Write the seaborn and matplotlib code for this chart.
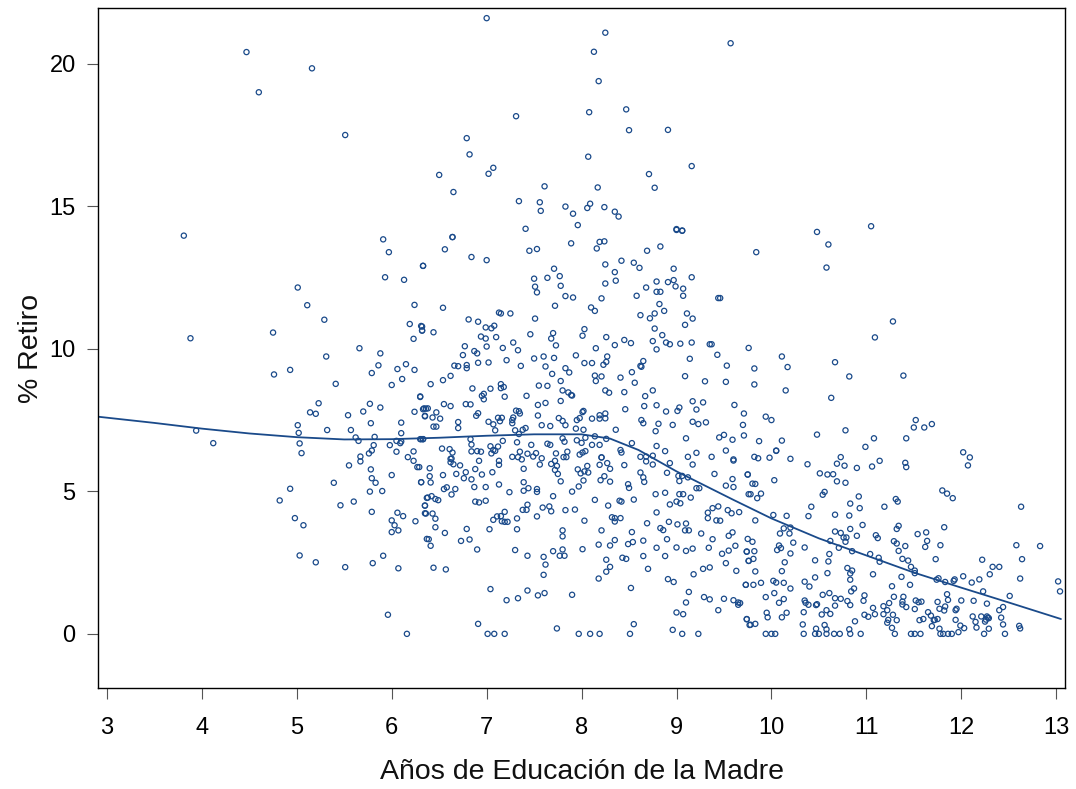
import numpy as np
import pandas as pd
import seaborn as sns
from matplotlib import pyplot as plt

# (años de educación de la madre, % retiro), por zonas
puntos_altos = [
    (4.47, 20.41), (5.16, 19.84), (4.60, 19.00), (5.51, 17.50), (3.81, 13.97),
    (7.00, 21.60), (8.25, 21.09), (8.13, 20.42), (9.57, 20.72), (8.18, 19.39),
    (7.31, 18.16), (8.08, 18.30), (8.47, 18.40), (8.50, 17.67), (8.91, 17.68),
    (6.79, 17.39), (6.82, 16.82), (8.07, 16.74), (7.07, 16.35), (7.02, 16.14),
    (6.50, 16.10), (9.16, 16.41), (8.71, 16.13), (8.77, 15.65), (6.65, 15.50),
    (7.61, 15.70), (8.17, 15.66), (7.34, 15.18), (7.56, 15.14), (7.57, 14.84),
    (7.83, 14.99), (7.91, 14.74), (8.09, 15.09), (8.06, 14.94), (8.24, 14.97),
    (8.35, 14.81), (8.39, 14.64), (7.96, 14.34), (7.41, 14.21), (6.64, 13.92),
    (9.00, 14.20), (9.06, 14.15), (10.48, 14.10), (11.05, 14.30),
]

puntos_izq = [
    (5.91, 13.84), (5.97, 13.39), (5.93, 12.51), (6.13, 12.42), (6.33, 12.91),
    (5.01, 12.15), (5.11, 11.53), (5.29, 11.02), (6.24, 11.54), (6.19, 10.87),
    (6.31, 10.80), (6.32, 10.64), (6.23, 10.35), (3.88, 10.37), (4.75, 10.57),
    (5.66, 10.02), (5.88, 9.84), (5.31, 9.73), (5.86, 9.42), (6.06, 9.29),
    (6.15, 9.46), (6.24, 9.26), (4.76, 9.10), (4.93, 9.26), (5.79, 9.15),
    (6.11, 8.94), (6.00, 8.73), (5.41, 8.77), (6.30, 8.31), (5.23, 8.09),
    (5.77, 8.07), (5.88, 7.94), (5.14, 7.77), (5.20, 7.72), (5.54, 7.67),
    (5.70, 7.80), (6.24, 7.79), (6.33, 7.88), (6.36, 7.90), (6.35, 7.63),
    (5.01, 7.32), (5.02, 7.05), (5.32, 7.15), (5.57, 7.15), (5.78, 7.39),
    (6.10, 7.41), (6.10, 7.04), (5.62, 6.89), (5.65, 6.77), (5.82, 6.91),
    (3.94, 7.13), (4.12, 6.69), (5.03, 6.68), (5.05, 6.34), (5.81, 6.62),
    (5.98, 6.62), (6.05, 6.77), (6.09, 6.69), (6.10, 6.75), (6.30, 6.83),
    (6.33, 6.83), (5.79, 6.43), (5.76, 6.33), (6.05, 6.39), (6.23, 6.40),
    (5.67, 6.22), (6.17, 6.20), (5.67, 6.05), (5.55, 5.91), (5.78, 5.77),
    (6.00, 5.57), (6.23, 6.07), (6.27, 5.85), (6.29, 5.85), (6.31, 5.32),
    (5.39, 5.30), (4.93, 5.09), (4.82, 4.68), (5.46, 4.51), (5.60, 4.64),
    (5.79, 5.46), (5.83, 5.30), (5.77, 4.99), (5.90, 5.01), (5.79, 4.28),
    (6.06, 4.25), (6.12, 4.13), (6.00, 3.98), (6.03, 3.81), (6.00, 3.57),
    (6.07, 3.63), (6.25, 3.95), (6.35, 4.50), (6.36, 4.22), (6.37, 3.33),
    (4.98, 4.06), (5.07, 3.81), (5.03, 2.75), (5.20, 2.51), (5.51, 2.34),
    (5.80, 2.48), (5.91, 2.74), (6.07, 2.30), (5.96, 0.67), (6.16, 0.00),
    (6.37, 4.77),
]

puntos_centro_alto = [
    (6.64, 13.92), (6.56, 13.49), (6.84, 13.22), (7.00, 13.11), (6.33, 12.91),
    (7.45, 13.44), (7.53, 13.50), (7.89, 13.70), (8.19, 13.75), (8.24, 13.77),
    (8.16, 13.52), (8.69, 13.44), (8.83, 13.59), (9.00, 14.17), (9.06, 14.14),
    (8.25, 12.96), (8.42, 13.09), (8.55, 13.02), (8.61, 12.84), (8.35, 12.69),
    (8.36, 12.39), (8.25, 12.29), (7.71, 12.81), (7.77, 12.55), (7.64, 12.49),
    (7.50, 12.46), (7.51, 12.18), (7.53, 11.98), (7.78, 12.21), (7.83, 11.85),
    (7.91, 11.80), (7.72, 11.51), (8.21, 11.77), (8.10, 11.45), (8.14, 11.33),
    (8.58, 11.86), (8.68, 12.15), (8.79, 12.36), (8.91, 12.34), (8.97, 12.81),
    (9.16, 12.51), (8.97, 12.41), (8.99, 12.19), (9.07, 12.11), (9.07, 11.86),
    (8.79, 12.00), (8.83, 12.00), (8.82, 11.57), (8.77, 11.24), (8.87, 11.33),
    (8.72, 11.07), (8.62, 11.18), (9.44, 11.78), (9.46, 11.78), (9.11, 11.24),
    (9.17, 11.06), (9.09, 10.84), (8.77, 10.71), (8.85, 10.48), (8.75, 10.27),
    (8.79, 9.98), (8.89, 10.22), (8.93, 10.16), (9.04, 10.18), (9.16, 10.22),
    (9.35, 10.16), (9.37, 10.16), (9.76, 10.03), (6.54, 11.44), (6.81, 11.03),
    (6.91, 10.95), (7.13, 11.27), (7.15, 11.24), (7.25, 11.24), (7.51, 11.06),
    (6.99, 10.75), (7.05, 10.72), (7.08, 10.81), (6.94, 10.43), (6.99, 10.36),
    (7.10, 10.41), (7.28, 10.22), (7.00, 10.08), (7.17, 10.03), (7.33, 9.95),
    (7.46, 10.51), (7.70, 10.55), (7.68, 10.36), (7.73, 10.12), (8.03, 10.69),
    (8.01, 10.46), (8.15, 10.02), (8.26, 10.41), (8.35, 10.13), (8.45, 10.31),
    (8.52, 10.20), (6.32, 10.78), (6.32, 10.64), (6.44, 10.58), (6.77, 10.09),
    (6.75, 9.78), (6.87, 9.92), (6.90, 9.84), (6.91, 9.51), (7.02, 9.52),
    (7.21, 9.60), (6.66, 9.41), (6.70, 9.39), (6.79, 9.43), (6.79, 9.32),
    (7.36, 9.40), (7.50, 9.66), (7.60, 9.73), (7.71, 9.68), (7.62, 9.38),
    (7.69, 9.12), (7.83, 9.32), (7.87, 9.17), (7.94, 9.77), (8.03, 9.50),
    (8.11, 9.50), (8.23, 9.44), (8.27, 9.73), (8.26, 9.54), (8.14, 9.06),
    (8.21, 9.03), (8.15, 8.87), (8.41, 8.99), (8.53, 9.18), (8.62, 9.40),
    (8.63, 9.37), (8.65, 9.57), (8.56, 8.81), (9.14, 9.65), (9.09, 9.04),
    (9.43, 9.79), (9.53, 9.41), (9.30, 8.86), (9.52, 8.84),
]

puntos_centro_medio = [
    (6.41, 8.76), (6.54, 8.90), (6.62, 9.05), (6.85, 8.61), (6.97, 8.42),
    (6.95, 8.35), (6.97, 8.23), (7.04, 8.60), (7.15, 8.76), (7.15, 8.62),
    (7.18, 8.66), (7.19, 8.32), (7.42, 8.35), (7.55, 8.71), (7.64, 8.70),
    (7.78, 8.87), (7.80, 8.54), (7.86, 8.47), (7.89, 8.38), (7.90, 8.36),
    (7.78, 8.17), (7.62, 8.10), (7.54, 8.03), (8.25, 8.54), (8.29, 8.46),
    (8.45, 8.48), (8.67, 8.34), (8.75, 8.54), (8.66, 7.99), (8.79, 8.02),
    (8.89, 7.80), (9.01, 7.82), (9.03, 7.94), (9.17, 8.16), (9.21, 7.87),
    (9.28, 8.12), (8.96, 7.33), (9.17, 7.44), (9.23, 7.36), (9.31, 7.42),
    (9.61, 8.03), (9.71, 7.73), (9.70, 7.33), (9.71, 6.96), (9.50, 6.98),
    (9.45, 6.89), (9.59, 6.81), (9.10, 6.86), (8.78, 7.11), (8.81, 7.37),
    (8.63, 7.50), (8.65, 7.39), (8.46, 7.88), (8.36, 7.16), (8.26, 6.84),
    (6.30, 8.33), (6.55, 8.06), (6.62, 7.99), (6.78, 8.06), (6.83, 8.05),
    (6.89, 7.65), (6.91, 7.74), (6.70, 7.43), (6.70, 7.22), (6.47, 7.77),
    (6.51, 7.55), (6.43, 7.59), (6.35, 7.65), (6.34, 7.91), (6.38, 7.91),
    (6.44, 7.27), (6.47, 7.27), (7.02, 7.44), (7.07, 7.35), (7.14, 7.46),
    (7.12, 7.58), (7.16, 7.58), (7.27, 7.50), (7.27, 7.39), (7.28, 7.59),
    (7.31, 7.83), (7.34, 7.81), (7.35, 7.73), (7.09, 7.14), (7.30, 7.14),
    (7.38, 7.16), (7.41, 7.22), (7.34, 7.01), (7.54, 7.66), (7.67, 7.29),
    (7.58, 7.32), (7.76, 7.57), (7.80, 7.47), (7.83, 7.32), (7.95, 7.50),
    (7.98, 7.57), (8.01, 7.78), (8.02, 7.82), (7.94, 7.20), (8.02, 7.16),
    (8.11, 7.55), (8.19, 7.67), (8.25, 7.73), (8.19, 7.55), (8.25, 7.56),
    (8.14, 6.93), (7.95, 6.79), (8.04, 6.88), (8.00, 6.70), (7.80, 6.86),
    (7.82, 6.74), (7.67, 6.63), (7.64, 6.67), (7.47, 6.63), (7.32, 6.72),
    (7.17, 6.77), (7.04, 6.58), (7.12, 6.57), (7.07, 6.45), (7.09, 6.42),
    (7.05, 6.33), (6.83, 6.83), (6.84, 6.64), (6.90, 6.41), (6.94, 6.39),
    (6.53, 6.50), (6.61, 6.48), (6.64, 6.36), (6.63, 6.15), (6.84, 6.40),
    (7.35, 6.39), (7.43, 6.32), (7.52, 6.34), (7.73, 6.33), (7.85, 6.39),
    (8.01, 6.36), (8.04, 6.41), (8.11, 6.63), (8.19, 6.63), (8.41, 6.45),
    (8.42, 6.36), (8.53, 6.69), (8.62, 6.21), (8.68, 6.22), (8.75, 6.25),
    (8.79, 6.59), (8.88, 6.41), (9.12, 6.21), (9.21, 6.35), (9.37, 6.21),
    (9.52, 6.43), (9.60, 6.12), (6.33, 6.83), (6.31, 6.83), (8.21, 6.19),
]

puntos_centro_bajo = [
    (6.40, 5.81), (6.31, 5.32), (6.41, 5.31), (6.40, 5.53), (6.54, 5.57),
    (6.62, 6.14), (6.65, 5.95), (6.72, 5.91), (6.62, 6.02), (6.68, 5.61),
    (6.76, 5.46), (6.78, 5.67), (6.84, 5.42), (6.88, 5.78), (6.92, 6.07),
    (6.95, 5.59), (7.06, 5.67), (7.13, 5.93), (7.13, 6.07), (7.27, 6.21),
    (7.33, 6.20), (7.37, 6.12), (7.49, 6.22), (7.58, 6.16), (7.56, 5.94),
    (7.39, 5.79), (7.68, 5.96), (7.72, 6.07), (7.74, 5.89), (7.72, 5.75),
    (7.75, 5.61), (7.78, 5.35), (7.81, 6.20), (7.84, 6.20), (7.96, 5.77),
    (7.99, 5.63), (7.98, 6.29), (8.03, 5.70), (8.07, 5.66), (8.06, 5.89),
    (8.02, 5.38), (8.21, 6.19), (8.19, 5.93), (8.27, 5.99), (8.20, 5.39),
    (8.30, 5.79), (8.24, 5.53), (8.30, 5.34), (8.45, 5.92), (8.49, 5.25),
    (8.50, 5.12), (8.68, 6.05), (8.75, 5.94), (8.62, 5.66), (8.65, 5.49),
    (8.66, 5.33), (8.93, 5.99), (8.90, 5.65), (9.02, 5.54), (9.06, 5.54),
    (9.03, 5.36), (9.17, 5.94), (9.12, 5.49), (9.21, 5.11), (9.24, 5.11),
    (9.40, 5.61), (9.60, 6.08), (9.59, 5.43), (9.52, 5.20), (9.60, 5.15),
    (9.75, 5.59), (9.76, 4.90), (6.63, 4.89), (6.38, 4.78), (6.42, 4.83),
    (6.46, 4.73), (6.49, 4.69), (6.55, 5.08), (6.58, 5.14), (6.67, 5.08),
    (6.35, 4.50), (6.35, 4.23), (6.43, 4.22), (6.46, 4.04), (6.46, 3.74),
    (6.39, 3.32), (6.41, 3.09), (6.56, 3.54), (6.44, 2.32), (6.57, 2.26),
    (6.87, 5.15), (6.99, 5.15), (6.88, 4.64), (6.92, 4.61), (6.99, 4.67),
    (7.13, 5.24), (7.24, 4.97), (6.79, 3.68), (6.73, 3.26), (6.82, 3.31),
    (6.90, 2.96), (7.03, 3.67), (7.07, 4.00), (7.11, 4.12), (7.15, 4.13),
    (7.19, 4.28), (7.16, 3.95), (7.19, 3.93), (7.22, 3.93), (7.32, 4.05),
    (7.32, 3.67), (7.30, 2.94), (7.43, 2.74), (7.04, 1.57), (7.21, 1.18),
    (7.33, 1.25), (7.43, 1.52), (7.54, 1.35), (7.61, 1.43), (6.91, 0.35),
    (7.01, 0.00), (7.08, 0.00), (7.19, 0.00), (7.39, 5.32), (7.44, 5.11),
    (7.39, 5.02), (7.53, 5.08), (7.53, 4.98), (7.43, 4.53), (7.38, 4.35),
    (7.42, 4.35), (7.53, 4.12), (7.59, 4.43), (7.66, 4.47), (7.68, 4.30),
    (7.70, 4.83), (7.83, 4.34), (7.93, 4.36), (7.90, 4.99), (7.97, 5.17),
    (7.80, 3.63), (7.80, 3.42), (7.80, 2.96), (7.77, 2.74), (7.82, 2.74),
    (7.70, 2.90), (7.60, 2.70), (7.62, 2.43), (7.60, 2.07), (7.90, 1.37),
    (7.74, 0.19), (7.97, 0.00), (8.09, 0.00), (8.19, 0.00), (8.03, 3.97),
    (8.01, 2.97), (8.14, 4.70), (8.28, 4.50), (8.32, 4.09), (8.35, 4.06),
    (8.35, 3.94), (8.41, 4.06), (8.40, 4.67), (8.42, 4.64), (8.55, 4.71),
    (8.21, 3.63), (8.18, 3.13), (8.30, 3.10), (8.35, 3.29), (8.26, 2.60),
    (8.30, 2.35), (8.26, 2.18), (8.18, 1.94), (8.43, 2.67), (8.47, 2.63),
    (8.49, 3.15), (8.54, 3.22), (8.53, 3.57), (8.52, 1.61), (8.55, 0.34),
    (8.51, 0.00), (8.69, 3.88), (8.65, 3.27), (8.65, 2.73), (8.70, 2.28),
    (8.79, 4.26), (8.78, 4.90), (8.88, 4.95), (8.93, 4.54), (9.00, 4.64),
    (9.04, 4.58), (9.03, 4.90), (9.07, 4.90), (9.15, 4.78), (8.92, 3.93),
    (8.83, 3.71), (8.86, 3.64), (8.90, 3.32), (8.79, 3.02), (8.88, 2.73),
    (9.00, 3.03), (9.01, 3.84), (9.10, 3.87), (9.09, 3.63), (9.13, 3.63),
    (9.10, 2.91), (9.17, 2.99), (9.26, 3.52), (9.34, 3.02), (9.38, 3.32),
    (9.33, 4.25), (9.33, 4.06), (9.38, 4.41), (9.44, 4.47), (9.42, 3.98),
    (9.46, 3.97), (9.54, 4.34), (9.58, 4.23), (9.66, 4.27), (9.59, 3.56),
    (9.55, 3.44), (9.62, 3.09), (9.55, 2.92), (9.48, 2.81), (9.52, 2.48),
    (9.63, 2.21), (9.74, 2.88), (9.76, 2.56), (9.18, 2.09), (9.28, 2.28),
    (9.35, 2.33), (8.91, 1.92), (8.97, 1.82), (9.13, 1.47), (9.10, 1.10),
    (9.00, 0.75), (9.07, 0.69), (8.96, 0.14), (9.06, 0.00), (9.23, 0.00),
    (9.29, 1.29), (9.35, 1.21), (9.50, 1.23), (9.44, 0.83), (9.60, 1.18),
    (9.65, 1.10), (9.65, 1.02), (9.73, 1.72), (9.74, 0.51), (9.77, 0.31),
]

puntos_der_alto = [
    (10.60, 13.66), (9.84, 13.39), (10.58, 12.85), (11.28, 10.96), (11.09, 10.40),
    (10.11, 9.73), (10.17, 9.36), (9.82, 9.31), (9.82, 8.75), (10.15, 8.54),
    (10.67, 9.53), (10.82, 9.03), (11.39, 9.06), (10.63, 8.28), (9.94, 7.62),
    (10.00, 7.50), (10.48, 6.99), (10.78, 7.14), (9.87, 6.76), (10.11, 6.78),
    (10.05, 6.43), (10.99, 6.56), (11.08, 6.86), (11.42, 6.86), (11.50, 7.24),
    (11.52, 7.50), (11.61, 7.24), (11.69, 7.36),
]

puntos_der_bajo = [
    (9.82, 6.21), (9.86, 6.16), (9.98, 6.18), (10.05, 6.42), (10.20, 6.14),
    (10.38, 5.95), (10.51, 5.63), (10.59, 5.59), (10.65, 5.60), (10.69, 5.97),
    (10.77, 5.90), (10.73, 6.20), (10.78, 5.30), (10.69, 5.35), (10.90, 5.82),
    (11.06, 5.87), (11.14, 6.07), (11.41, 6.00), (11.42, 5.85), (12.02, 6.37),
    (12.09, 6.19), (12.07, 5.91), (9.75, 5.59), (9.80, 5.27), (9.83, 5.26),
    (10.03, 5.39), (9.78, 4.90), (9.85, 4.76), (9.89, 4.92), (9.83, 3.98),
    (10.02, 4.17), (10.16, 4.14), (10.54, 4.88), (10.56, 4.98), (10.42, 4.46),
    (10.39, 4.13), (10.92, 4.82), (10.83, 4.57), (10.93, 4.41), (11.19, 4.46),
    (11.31, 4.73), (11.33, 4.64), (11.80, 5.03), (11.85, 4.92), (11.91, 4.76),
    (12.63, 4.46), (10.67, 4.18), (10.82, 4.15), (10.67, 3.59), (10.73, 3.54),
    (10.83, 3.68), (10.96, 3.82), (11.10, 3.46), (11.12, 3.36), (11.32, 3.68),
    (11.34, 3.79), (11.54, 3.50), (11.63, 3.56), (11.82, 3.74), (9.75, 3.33),
    (9.80, 3.23), (9.74, 2.89), (9.82, 2.90), (9.76, 2.56), (9.81, 2.63),
    (9.83, 2.19), (10.08, 3.10), (10.10, 3.01), (10.06, 2.94), (10.19, 3.52),
    (10.20, 3.73), (10.13, 3.70), (10.09, 3.52), (10.23, 3.20), (10.35, 3.03),
    (10.20, 2.82), (10.14, 2.51), (10.11, 2.20), (10.46, 2.58), (10.46, 1.98),
    (10.60, 2.54), (10.61, 2.80), (10.59, 2.13), (10.62, 3.26), (10.71, 3.02),
    (10.78, 3.23), (10.79, 3.38), (10.76, 3.38), (10.85, 2.90), (10.90, 3.44),
    (10.80, 2.31), (10.83, 2.12), (10.85, 2.22), (10.83, 1.90), (11.04, 2.80),
    (11.13, 2.67), (11.14, 2.53), (11.07, 2.09), (11.29, 3.25), (11.32, 3.17),
    (11.41, 3.08), (11.34, 2.91), (11.38, 2.63), (11.44, 2.57), (11.47, 2.35),
    (11.51, 2.22), (11.51, 2.13), (11.37, 2.00), (11.27, 1.67), (11.46, 1.72),
    (11.62, 3.05), (11.64, 3.26), (11.78, 3.11), (11.73, 2.62), (11.76, 1.95),
    (11.74, 1.90), (11.83, 1.82), (11.92, 1.86), (11.93, 1.91), (12.02, 2.02),
    (12.11, 1.80), (12.19, 1.91), (12.22, 2.60), (12.30, 2.09), (12.33, 2.35),
    (12.40, 2.35), (12.23, 1.49), (12.27, 1.06), (12.51, 1.33), (12.58, 3.11),
    (12.64, 2.62), (12.62, 1.94), (12.83, 3.08), (13.02, 1.84), (13.04, 1.49),
]

puntos_der_suelo = [
    (9.73, 1.72), (9.81, 1.72), (9.89, 1.79), (9.67, 1.08), (9.94, 1.29),
    (10.02, 1.86), (10.05, 1.80), (10.03, 1.43), (10.13, 1.79), (10.20, 1.59),
    (10.13, 1.22), (10.08, 1.09), (10.35, 1.83), (10.40, 1.66), (10.35, 1.17),
    (10.36, 1.09), (10.39, 1.02), (10.47, 1.01), (10.48, 1.04), (10.54, 1.37),
    (10.61, 1.43), (10.67, 1.25), (10.73, 1.23), (10.67, 0.99), (10.80, 1.15),
    (10.83, 1.01), (10.84, 1.49), (10.87, 1.59), (10.98, 1.35), (10.97, 1.16),
    (11.07, 0.91), (11.18, 0.97), (11.22, 0.83), (11.18, 0.69), (11.09, 0.69),
    (10.98, 0.67), (11.02, 0.60), (10.88, 0.44), (9.95, 0.74), (9.96, 0.58),
    (10.11, 0.58), (10.16, 0.74), (9.74, 0.52), (9.78, 0.32), (9.83, 0.35),
    (10.34, 0.76), (10.33, 0.33), (10.47, 0.18), (10.53, 0.68), (10.58, 0.83),
    (10.62, 0.70), (10.56, 0.31), (10.58, 0.16), (10.82, 0.16), (11.24, 1.08),
    (11.29, 1.30), (11.23, 0.49), (11.22, 0.39), (11.28, 0.67), (11.32, 0.48),
    (11.27, 0.21), (11.38, 1.13), (11.38, 1.03), (11.39, 1.30), (11.42, 0.94),
    (11.52, 1.17), (11.55, 1.11), (11.58, 1.13), (11.51, 0.87), (11.65, 0.76),
    (11.68, 0.64), (11.72, 0.49), (11.71, 0.48), (11.56, 0.48), (11.60, 0.52),
    (11.69, 0.27), (11.75, 0.52), (11.77, 0.18), (11.75, 1.12), (11.77, 0.88),
    (11.85, 1.39), (11.86, 1.19), (11.82, 0.82), (11.83, 0.96), (11.94, 0.83),
    (11.95, 0.88), (11.94, 0.49), (12.00, 1.17), (11.99, 0.29), (12.03, 0.20),
    (11.97, 0.06), (12.12, 0.61), (12.15, 0.42), (12.16, 0.22), (12.13, 1.16),
    (12.21, 0.61), (12.27, 0.61), (12.29, 0.55), (12.25, 0.43), (12.26, 0.50),
    (12.28, 0.57), (12.29, 0.18), (12.42, 0.57), (12.44, 0.33), (12.40, 0.83),
    (12.44, 0.94), (12.61, 0.28), (12.62, 0.19),
    (9.94, 0.0), (10.00, 0.0), (10.04, 0.0), (10.34, 0.0), (10.46, 0.0),
    (10.50, 0.0), (10.58, 0.0), (10.66, 0.0), (10.72, 0.0), (10.83, 0.0),
    (10.94, 0.0), (11.30, 0.0), (11.47, 0.0), (11.51, 0.0), (11.57, 0.0),
    (11.78, 0.0), (11.81, 0.0), (11.86, 0.0), (11.90, 0.0), (12.24, 0.0),
    (12.46, 0.0),
]

# curva suavizada (lowess)
curva_x = [2.9, 3.5, 4.0, 4.5, 5.0, 5.5, 6.0, 6.5, 7.0, 7.5, 8.0, 8.3, 8.6,
           9.0, 9.3, 9.6, 10.0, 10.5, 11.0, 11.5, 12.0, 12.5, 13.05]
curva_y = [7.62, 7.40, 7.20, 7.03, 6.90, 6.82, 6.83, 6.88, 6.95, 7.00, 7.00,
           6.85, 6.45, 5.70, 5.20, 4.70, 4.05, 3.35, 2.75, 2.15, 1.62, 1.10, 0.52]

color = '#1a4a8a'

todos = (puntos_altos + puntos_izq + puntos_centro_alto + puntos_centro_medio
         + puntos_centro_bajo + puntos_der_alto + puntos_der_bajo + puntos_der_suelo)
df = pd.DataFrame(todos, columns=['educ_madre', 'retiro'])

sns.set_style('ticks')
plt.rcParams['font.family'] = ['Liberation Sans', 'DejaVu Sans']

fig = plt.figure(figsize=(10.76, 7.89), dpi=100)
ax = fig.add_axes([0.091, 0.128, 0.899, 0.862])

sns.scatterplot(data=df, x='educ_madre', y='retiro', ax=ax, marker='o', s=14,
                facecolor='none', edgecolor=color, linewidth=0.9)
sns.lineplot(x=curva_x, y=curva_y, ax=ax, color=color, linewidth=1.3, sort=False)

ax.set_xlim(2.905, 13.095)
ax.set_ylim(-1.9, 21.96)
ax.set_xticks(range(3, 14))
ax.set_yticks([0, 5, 10, 15, 20])
ax.tick_params(axis='both', direction='out', length=8, width=0.8, labelsize=17,
               color='#555555', labelcolor='black')
ax.tick_params(axis='x', pad=13)
ax.tick_params(axis='y', pad=8)
for s in ax.spines.values():
    s.set_color('black')
    s.set_linewidth(1.0)
ax.set_xlabel('Años de Educación de la Madre', fontsize=20.5, labelpad=14, color='#111111')
ax.set_ylabel('% Retiro', fontsize=20.5, labelpad=4, color='#111111')

fig.savefig('out.png', dpi=100)
